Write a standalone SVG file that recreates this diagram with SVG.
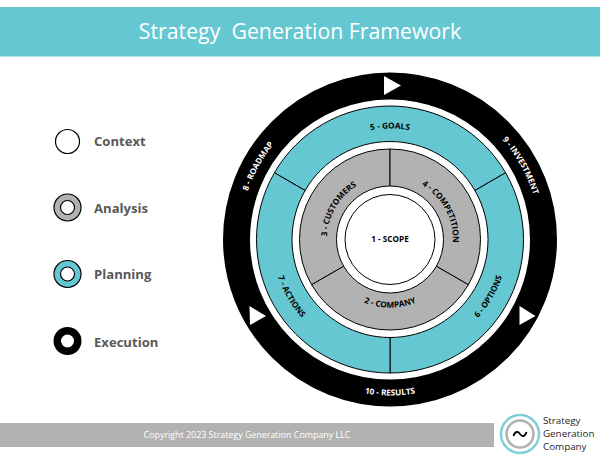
<svg xmlns="http://www.w3.org/2000/svg" width="600" height="464" viewBox="0 0 600 464">
<style>
text{font-family:"Open Sans","Noto Sans","Liberation Sans",sans-serif}
.seg{stroke:#000;stroke-width:1}
.teal{fill:#65c7d1}
.gray{fill:#b2b2b2}
.arc{font-size:8.200px;font-weight:700;text-anchor:middle;fill:#000}
.w{fill:#fff}
.leg{font-size:13.100px;font-weight:700;fill:#595959}
.logo{font-size:9.800px;fill:#262626}
.tri{fill:#fff}
</style>
<defs>
<path id="t111" d="M293.9 184 A111 111 0 0 1 486.1 184"/>
<path id="t63" d="M335.4 208 A63 63 0 0 1 444.6 208"/>
<path id="t150" d="M260 164.5 A150 150 0 0 1 520 164.5"/>
<path id="b68" d="M331 273.5 A68 68 0 0 0 449 273.5"/>
<path id="b118" d="M287.8 298.5 A118 118 0 0 0 492.2 298.5"/>
<path id="b156" d="M254.9 317.5 A156 156 0 0 0 525.1 317.5"/>
</defs>
<g id="header">
<rect x="0" y="7" width="600" height="49.500" class="teal"/>
<text x="300" y="38.500" text-anchor="middle" font-size="21.300" fill="#fff" xml:space="preserve">Strategy  Generation Framework</text>
</g>
<g id="legend-context"><circle cx="67.500" cy="141.500" r="12" fill="#fff" stroke="#000" stroke-width="1.200"/><text x="94" y="146" class="leg">Context</text></g>
<g id="legend-analysis"><circle cx="67.500" cy="207.500" r="13.500" class="gray" stroke="#000" stroke-width="1.200"/><circle cx="67.500" cy="207.500" r="7" fill="#fff" stroke="#000" stroke-width="1.200"/><text x="94" y="213" class="leg">Analysis</text></g>
<g id="legend-planning"><circle cx="67.500" cy="274" r="13.500" class="teal" stroke="#000" stroke-width="1.200"/><circle cx="67.500" cy="274" r="7" fill="#fff" stroke="#000" stroke-width="1.200"/><text x="94" y="279" class="leg">Planning</text></g>
<g id="legend-execution"><circle cx="67.500" cy="341" r="14" fill="#000"/><circle cx="67.500" cy="341" r="6.500" fill="#fff"/><text x="94" y="347" class="leg">Execution</text></g>
<g id="execution-ring">
<circle cx="390" cy="239.500" r="153.500" fill="none" stroke="#000" stroke-width="27"/>
<polygon class="tri" points="384,76 384,95 401,85.500"/>
<polygon class="tri" points="249.500,306 250,325 266,316"/>
<polygon class="tri" points="519.500,306 519.500,325 535.500,316"/>
</g>
<g id="node-8"><text class="arc w" transform="rotate(-61 390 239.500)"><textPath href="#t150" startOffset="50%">8 - ROADMAP</textPath></text></g>
<g id="node-9"><text class="arc w" transform="rotate(60.500 390 239.500)"><textPath href="#t150" startOffset="50%">9 - INVESTMENT</textPath></text></g>
<g id="node-10"><text class="arc w"><textPath href="#b156" startOffset="50%">10 - RESULTS</textPath></text></g>
<g id="node-5"><path class="seg teal" d="M274.400 172.750 A133.500 133.500 0 0 1 505.600 172.750 L474.870 190.500 A98 98 0 0 0 305.130 190.500 Z"/><text class="arc"><textPath href="#t111" startOffset="50%">5 - GOALS</textPath></text></g>
<g id="node-6"><path class="seg teal" d="M505.600 172.750 A133.500 133.500 0 0 1 390 373 L390 337.500 A98 98 0 0 0 474.870 190.500 Z"/><text class="arc" transform="rotate(-60 390 239.500)"><textPath href="#b118" startOffset="50%">6 - OPTIONS</textPath></text></g>
<g id="node-7"><path class="seg teal" d="M390 373 A133.500 133.500 0 0 1 274.400 172.750 L305.130 190.500 A98 98 0 0 0 390 337.500 Z"/><text class="arc" transform="rotate(60 390 239.500)"><textPath href="#b118" startOffset="50%">7 - ACTIONS</textPath></text></g>
<g id="node-3"><path class="seg gray" d="M311.620 284.750 A90.500 90.500 0 0 1 390 149 L390 186 A53.500 53.500 0 0 0 343.670 266.250 Z"/><text class="arc" transform="rotate(-59.500 390 239.500)"><textPath href="#t63" startOffset="50%">3 - CUSTOMERS</textPath></text></g>
<g id="node-4"><path class="seg gray" d="M390 149 A90.500 90.500 0 0 1 468.380 284.750 L436.330 266.250 A53.500 53.500 0 0 0 390 186 Z"/><text class="arc" transform="rotate(61.500 390 239.500)"><textPath href="#t63" startOffset="50%">4 - COMPETITION</textPath></text></g>
<g id="node-2"><path class="seg gray" d="M468.380 284.750 A90.500 90.500 0 0 1 311.620 284.750 L343.670 266.250 A53.500 53.500 0 0 0 436.330 266.250 Z"/><text class="arc"><textPath href="#b68" startOffset="50%">2 - COMPANY</textPath></text></g>
<g id="node-1"><circle cx="390" cy="239.500" r="45" fill="#fff" stroke="#000" stroke-width="1"/><text x="390" y="241.500" class="arc">1 - SCOPE</text></g>
<g id="footer">
<rect x="0" y="423" width="494" height="24" class="gray"/>
<text x="247" y="438" text-anchor="middle" font-size="8.900px" fill="#fff">Copyright 2023 Strategy Generation Company LLC</text>
</g>
<g id="logo">
<circle cx="520" cy="434" r="19" fill="#fff" stroke="#7fcfd8" stroke-width="2.500"/>
<circle cx="520" cy="434" r="13.500" fill="#fff" stroke="#b2b2b2" stroke-width="2.500"/>
<path d="M513.500 436 C515 431 518 431 520 434 C522 437 525 437 526.500 432" fill="none" stroke="#000" stroke-width="1.800"/>
<text x="543" y="424" class="logo">Strategy</text>
<text x="543" y="437" class="logo">Generation</text>
<text x="543" y="450" class="logo">Company</text>
</g>
</svg>
